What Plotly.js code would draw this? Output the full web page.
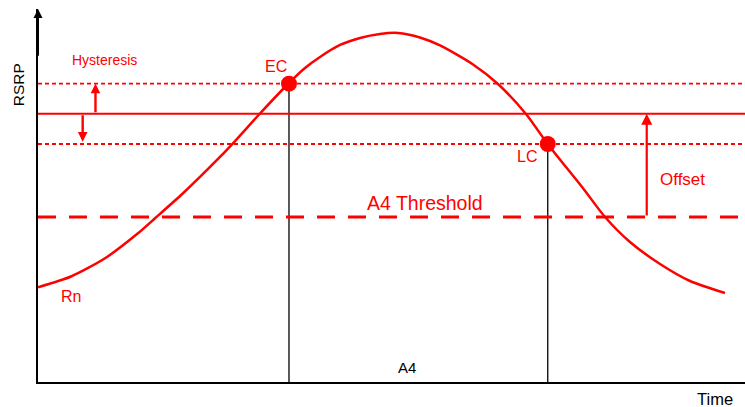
<!DOCTYPE html>
<html>
<head>
<meta charset="utf-8">
<script src="https://cdn.plot.ly/plotly-3.0.1.min.js"></script>
<style>html,body{margin:0;padding:0;background:#fff;}#chart{width:745px;height:407px;}</style>
</head>
<body>
<div id="chart"></div>
<script>
// Rn curve (time, RSRP)
const rnTime = [0, 4.67, 9.48, 14.14, 16.55, 20.51, 25.32, 27.58, 31.40, 35.50, 37.77, 39.89, 42.72, 45.55, 48.37, 50.92, 54.03, 56.86, 61.53, 65.06, 69.02, 72.14, 77.09, 80.20, 83.73, 87.98, 92.22, 97.17];
const rnRSRP = [24.79, 27.62, 32.38, 38.93, 42.85, 49.40, 58.12, 62.49, 70.29, 78.27, 82.20, 85.08, 88.22, 90.05, 91.10, 91.36, 90.18, 88.09, 83.12, 78.01, 70.16, 62.17, 50.71, 43.19, 36.65, 30.89, 26.44, 23.30];
// levels
const a4Threshold = 43.2;
const offset = 27.0;
const hysteresis = 7.9;
// event points
const eventNames = ["EC", "LC"];
const eventTime = [35.5, 72.1];
const eventRSRP = [78.1, 62.3];
const lineSpan = [0, 100];

const RED = "#ff0000";
const FONT = "Liberation Sans, Arial, sans-serif";
const entryLevel = a4Threshold + offset;
const upper = entryLevel + hysteresis;
const lower = entryLevel - hysteresis;

const traces = [];
// vertical drop lines
for (let i = 0; i < eventTime.length; i++) {
  traces.push({x: [eventTime[i], eventTime[i]], y: [eventRSRP[i], 0], mode: "lines",
    line: {color: "#000", width: 1.3}, hoverinfo: "skip"});
}
traces.push({x: lineSpan, y: [upper, upper], mode: "lines", line: {color: RED, width: 1.8, dash: "4px,3px"}});
traces.push({x: lineSpan, y: [entryLevel, entryLevel], mode: "lines", line: {color: RED, width: 2}});
traces.push({x: lineSpan, y: [lower, lower], mode: "lines", line: {color: RED, width: 1.8, dash: "4px,3px"}});
traces.push({x: lineSpan, y: [a4Threshold, a4Threshold], mode: "lines", line: {color: RED, width: 3, dash: "18px,13px"}});
traces.push({x: rnTime, y: rnRSRP, mode: "lines", line: {color: RED, width: 2.5, shape: "spline", smoothing: 0.7}});
traces.push({x: eventTime, y: eventRSRP, mode: "markers", marker: {color: RED, size: 16}});

const txt = (text, x, y, size, color, extra) => Object.assign({
  text: text, x: x, y: y, xref: "x", yref: "y", showarrow: false,
  font: {family: FONT, size: size, color: color}, xanchor: "center", yanchor: "middle"
}, extra || {});

const annotations = [
  txt("Hysteresis", 9.4, 84.2, 14, RED),
  txt(eventNames[0], 33.6, 82.7, 16, RED),
  txt(eventNames[1], 69.1, 58.9, 16, RED),
  txt("Offset", 91.1, 52.9, 17, RED),
  txt("A4 Threshold", 54.7, 46.9, 19.5, RED),
  txt("Rn", 4.6, 22.5, 16, RED),
  txt("A4", 52.2, 3.8, 15, "#000"),
  {text: "Time", xref: "paper", yref: "paper", x: 0.9576, y: -0.045, showarrow: false,
   font: {family: FONT, size: 16.5, color: "#000"}, xanchor: "center", yanchor: "middle"},
  {text: "RSRP", xref: "paper", yref: "paper", x: -0.028, y: 0.796, showarrow: false, textangle: -90,
   font: {family: FONT, size: 15.5, color: "#000"}, xanchor: "center", yanchor: "middle"},
  // arrows
  {x: 8.13, y: upper, ax: 8.13, ay: entryLevel, xref: "x", yref: "y", axref: "x", ayref: "y",
   showarrow: true, arrowhead: 2, arrowsize: 0.8, arrowwidth: 2.4, arrowcolor: RED, text: ""},
  {x: 6.32, y: lower + 0.6, ax: 6.32, ay: entryLevel, xref: "x", yref: "y", axref: "x", ayref: "y",
   showarrow: true, arrowhead: 2, arrowsize: 0.8, arrowwidth: 2.4, arrowcolor: RED, text: ""},
  {x: 86.1, y: entryLevel, ax: 86.1, ay: a4Threshold, xref: "x", yref: "y", axref: "x", ayref: "y",
   showarrow: true, arrowhead: 2, arrowsize: 1, arrowwidth: 2.2, arrowcolor: RED, text: ""},
  // y axis arrowhead
  {x: 0, y: 97.64, ax: 0, ay: 85, xref: "x", yref: "y", axref: "x", ayref: "y",
   showarrow: true, arrowhead: 2, arrowsize: 0.9, arrowwidth: 2, arrowcolor: "#000", text: ""}
];

const layout = {
  width: 745, height: 407,
  margin: {l: 38, r: 0, t: 9, b: 25},
  paper_bgcolor: "#fff", plot_bgcolor: "#fff",
  showlegend: false,
  xaxis: {range: [0, 100], showgrid: false, zeroline: false, showticklabels: false, ticks: "",
          showline: true, linecolor: "#000", linewidth: 2, fixedrange: true},
  yaxis: {range: [0, 97.64], showgrid: false, zeroline: false, showticklabels: false, ticks: "",
          showline: true, linecolor: "#000", linewidth: 2, fixedrange: true},
  annotations: annotations
};

Plotly.newPlot("chart", traces, layout, {staticPlot: true, displayModeBar: false});
</script>
</body>
</html>
